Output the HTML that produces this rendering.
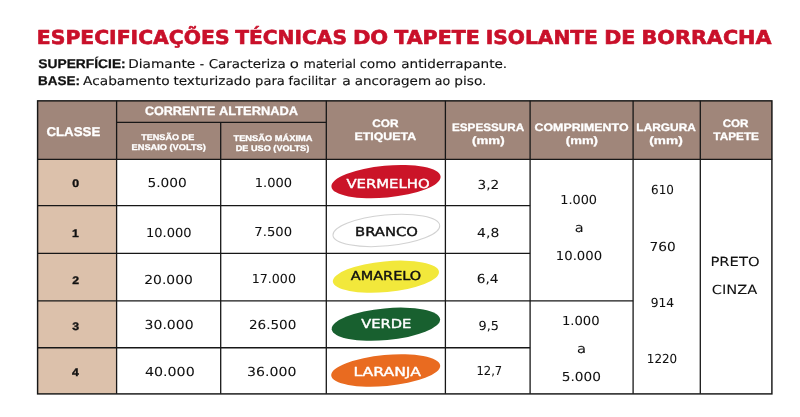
<!DOCTYPE html>
<html lang="pt-BR">
<head>
<meta charset="utf-8">
<title>Especificações técnicas do tapete isolante de borracha</title>
<style>
html,body{margin:0;padding:0;background:#ffffff;}
body{width:800px;height:417px;overflow:hidden;}
svg{display:block;}
text{white-space:pre;}
</style>
</head>
<body>
<svg width="800" height="417" viewBox="0 0 800 417" text-rendering="geometricPrecision" role="img" aria-label="Tabela de especificações técnicas do tapete isolante de borracha">
<rect x="0" y="0" width="800" height="417" fill="#ffffff"/>
<rect x="37.5" y="100.7" width="734.70" height="58.70" fill="#a0867a"/>
<rect x="37.5" y="159.4" width="79.10" height="234.40" fill="#dcc1ab"/>
<ellipse cx="0" cy="0" rx="54.81" ry="15.93" transform="translate(386.0 181.6) rotate(-5.3)" fill="#cb1428"/>
<ellipse cx="0" cy="0" rx="53.61" ry="15.49" transform="translate(386.35 230.4) rotate(-5.3)" fill="none" stroke="#d2d2d2" stroke-width="1"/>
<ellipse cx="0" cy="0" rx="53.31" ry="15.39" transform="translate(385.9 276.7) rotate(-5.3)" fill="#f2e83b"/>
<ellipse cx="0" cy="0" rx="54.41" ry="15.89" transform="translate(385.9 324.2) rotate(-5.3)" fill="#18602f"/>
<ellipse cx="0" cy="0" rx="54.72" ry="15.51" transform="translate(385.7 370.5) rotate(-5.3)" fill="#e96b20"/>
<g stroke="#171717" stroke-width="1.3" fill="none" stroke-linecap="butt">
<rect x="37.6" y="100.85" width="734.30" height="293.05" stroke-width="1.45"/>
<line x1="116.6" y1="122.3" x2="326.3" y2="122.3"/>
<line x1="37.5" y1="159.4" x2="772.2" y2="159.4"/>
<line x1="116.6" y1="100.7" x2="116.6" y2="393.8"/>
<line x1="220.7" y1="122.3" x2="220.7" y2="393.8"/>
<line x1="326.3" y1="100.7" x2="326.3" y2="393.8"/>
<line x1="445.4" y1="100.7" x2="445.4" y2="393.8"/>
<line x1="530.1" y1="100.7" x2="530.1" y2="393.8"/>
<line x1="633.1" y1="100.7" x2="633.1" y2="393.8"/>
<line x1="700.3" y1="100.7" x2="700.3" y2="393.8"/>
<line x1="37.5" y1="205.6" x2="530.1" y2="205.6"/>
<line x1="37.5" y1="253.3" x2="530.1" y2="253.3"/>
<line x1="37.5" y1="300.85" x2="633.1" y2="300.85"/>
<line x1="37.5" y1="347.75" x2="530.1" y2="347.75"/>
</g>
<g font-family='"DejaVu Sans", "Liberation Sans", sans-serif' font-size="19.27" font-weight="bold" fill="#c9102a" stroke="#c9102a" stroke-width="0.65" stroke-linejoin="round">
<text transform="translate(36.87 43.88) scale(1.0555 1)">ESPECIFICAÇÕES</text>
<text transform="translate(235.23 43.88) scale(1.0477 1)">TÉCNICAS</text>
<text transform="translate(352.92 43.88) scale(1.0905 1)">DO</text>
<text transform="translate(394.23 43.88) scale(1.0674 1)">TAPETE</text>
<text transform="translate(485.69 43.88) scale(1.0479 1)">ISOLANTE</text>
<text transform="translate(604.16 43.88) scale(1.0677 1)">DE</text>
<text transform="translate(641.55 43.88) scale(1.0752 1)">BORRACHA</text>
</g>
<g font-family='"Liberation Sans", sans-serif' font-size="12.72" font-weight="bold" fill="#111111" stroke="#111111" stroke-width="0.25" stroke-linejoin="round">
<text transform="translate(38.30 68.08) scale(1.0848 1)">SUPERFÍCIE:</text>
</g>
<g font-family='"DejaVu Sans", "Liberation Sans", sans-serif' font-size="12.18" font-weight="normal" fill="#111111" stroke="#111111" stroke-width="0.12" stroke-linejoin="round">
<text transform="translate(128.25 68.14) scale(1.1260 1)">Diamante</text>
<text transform="translate(199.86 68.14) scale(0.9903 1)">-</text>
<text transform="translate(208.64 68.14) scale(1.1068 1)">Caracteriza</text>
<text transform="translate(289.68 68.14) scale(1.2239 1)">o</text>
<text transform="translate(303.40 68.14) scale(1.0379 1)">material</text>
<text transform="translate(359.77 68.14) scale(1.0894 1)">como</text>
<text transform="translate(401.19 68.14) scale(1.1176 1)">antiderrapante.</text>
</g>
<g font-family='"Liberation Sans", sans-serif' font-size="12.72" font-weight="bold" fill="#111111" stroke="#111111" stroke-width="0.25" stroke-linejoin="round">
<text transform="translate(37.98 85.08) scale(1.0602 1)">BASE:</text>
</g>
<g font-family='"DejaVu Sans", "Liberation Sans", sans-serif' font-size="12.18" font-weight="normal" fill="#111111" stroke="#111111" stroke-width="0.12" stroke-linejoin="round">
<text transform="translate(83.06 85.14) scale(1.1268 1)">Acabamento</text>
<text transform="translate(173.39 85.14) scale(1.1183 1)">texturizado</text>
<text transform="translate(255.11 85.14) scale(1.0761 1)">para</text>
<text transform="translate(288.52 85.14) scale(1.0396 1)">facilitar</text>
<text transform="translate(342.17 85.14) scale(1.1443 1)">a</text>
<text transform="translate(354.70 85.14) scale(1.1092 1)">ancoragem</text>
<text transform="translate(434.75 85.14) scale(1.0343 1)">ao</text>
<text transform="translate(454.31 85.14) scale(1.1239 1)">piso.</text>
</g>
<g font-family='"Liberation Sans", sans-serif' font-size="12.79" font-weight="bold" fill="#ffffff" stroke="#ffffff" stroke-width="0.3" stroke-linejoin="round">
<text transform="translate(46.44 135.55) scale(1.0377 1)">CLASSE</text>
</g>
<g font-family='"Liberation Sans", sans-serif' font-size="12.28" font-weight="bold" fill="#ffffff" stroke="#ffffff" stroke-width="0.3" stroke-linejoin="round">
<text transform="translate(144.96 115.25) scale(1.0230 1)">CORRENTE</text>
<text transform="translate(218.97 115.25) scale(1.0496 1)">ALTERNADA</text>
</g>
<g font-family='"Liberation Sans", sans-serif' font-size="8.29" font-weight="bold" fill="#ffffff" stroke="#ffffff" stroke-width="0.3" stroke-linejoin="round">
<text transform="translate(141.16 139.75) scale(1.0991 1)">TENSÃO DE</text>
<text transform="translate(131.55 149.55) scale(1.1159 1)">ENSAIO (VOLTS)</text>
<text transform="translate(233.46 140.85) scale(1.1232 1)">TENSÃO MÁXIMA</text>
<text transform="translate(235.76 150.75) scale(1.1038 1)">DE USO (VOLTS)</text>
</g>
<g font-family='"Liberation Sans", sans-serif' font-size="10.76" font-weight="bold" fill="#ffffff" stroke="#ffffff" stroke-width="0.3" stroke-linejoin="round">
<text transform="translate(372.18 126.55) scale(1.0988 1)">COR</text>
<text transform="translate(354.55 139.75) scale(1.1486 1)">ETIQUETA</text>
<text transform="translate(451.98 130.85) scale(1.0899 1)">ESPESSURA</text>
<text transform="translate(472.04 143.85) scale(1.2386 1)">(mm)</text>
<text transform="translate(534.56 130.85) scale(1.1510 1)">COMPRIMENTO</text>
<text transform="translate(565.85 143.85) scale(1.2228 1)">(mm)</text>
<text transform="translate(636.37 130.85) scale(1.1060 1)">LARGURA</text>
<text transform="translate(649.32 143.85) scale(1.2701 1)">(mm)</text>
<text transform="translate(722.68 126.65) scale(1.0817 1)">COR</text>
<text transform="translate(713.33 140.25) scale(1.0960 1)">TAPETE</text>
</g>
<g font-family='"Liberation Sans", sans-serif' font-size="10.97" font-weight="bold" fill="#111111" stroke="#111111" stroke-width="0.35" stroke-linejoin="round">
<text transform="translate(72.16 187.02) scale(1.1200 1)">0</text>
<text transform="translate(71.95 236.62) scale(1.1200 1)">1</text>
<text transform="translate(72.23 284.43) scale(1.1200 1)">2</text>
<text transform="translate(72.24 330.02) scale(1.1200 1)">3</text>
<text transform="translate(72.10 375.82) scale(1.1200 1)">4</text>
</g>
<g font-family='"DejaVu Sans", "Liberation Sans", sans-serif' font-size="12.41" font-weight="normal" fill="#111111" stroke="#111111" stroke-width="0.05" stroke-linejoin="round">
<text transform="translate(147.38 187.17) scale(1.1097 1)">5.000</text>
<text transform="translate(146.02 236.57) scale(1.0500 1)">10.000</text>
<text transform="translate(144.28 283.68) scale(1.1191 1)">20.000</text>
<text transform="translate(144.55 329.48) scale(1.1292 1)">30.000</text>
<text transform="translate(144.89 376.07) scale(1.1470 1)">40.000</text>
<text transform="translate(254.72 187.17) scale(1.0509 1)">1.000</text>
<text transform="translate(254.32 235.87) scale(1.0625 1)">7.500</text>
<text transform="translate(251.66 282.88) scale(1.0208 1)">17.000</text>
<text transform="translate(248.91 329.48) scale(1.0927 1)">26.500</text>
<text transform="translate(247.05 376.07) scale(1.1364 1)">36.000</text>
</g>
<g font-family='"DejaVu Sans", "Liberation Sans", sans-serif' font-size="12.35" font-weight="normal" fill="#ffffff" stroke="#ffffff" stroke-width="0.4" stroke-linejoin="round">
<text transform="translate(346.44 187.60) scale(1.2025 1)">VERMELHO</text>
</g>
<g font-family='"DejaVu Sans", "Liberation Sans", sans-serif' font-size="12.35" font-weight="normal" fill="#111111" stroke="#111111" stroke-width="0.4" stroke-linejoin="round">
<text transform="translate(355.04 235.70) scale(1.1953 1)">BRANCO</text>
<text transform="translate(350.84 280.05) scale(1.1717 1)">AMARELO</text>
</g>
<g font-family='"DejaVu Sans", "Liberation Sans", sans-serif' font-size="12.35" font-weight="normal" fill="#ffffff" stroke="#ffffff" stroke-width="0.4" stroke-linejoin="round">
<text transform="translate(361.29 327.70) scale(1.1879 1)">VERDE</text>
<text transform="translate(353.41 376.20) scale(1.2683 1)">LARANJA</text>
</g>
<g font-family='"DejaVu Sans", "Liberation Sans", sans-serif' font-size="12.41" font-weight="normal" fill="#111111" stroke="#111111" stroke-width="0.05" stroke-linejoin="round">
<text transform="translate(477.58 188.77) scale(1.0998 1)">3,2</text>
<text transform="translate(477.11 236.57) scale(1.1217 1)">4,8</text>
<text transform="translate(476.79 283.07) scale(1.1039 1)">6,4</text>
<text transform="translate(478.60 329.78) scale(1.0336 1)">9,5</text>
<text transform="translate(476.49 375.28) scale(0.9299 1)">12,7</text>
<text transform="translate(560.24 203.97) scale(1.0358 1)">1.000</text>
</g>
<g font-family='"DejaVu Sans", "Liberation Sans", sans-serif' font-size="12.69" font-weight="normal" fill="#111111" stroke="#111111" stroke-width="0.05" stroke-linejoin="round">
<text transform="translate(574.82 232.27) scale(1.1447 1)">a</text>
</g>
<g font-family='"DejaVu Sans", "Liberation Sans", sans-serif' font-size="12.41" font-weight="normal" fill="#111111" stroke="#111111" stroke-width="0.05" stroke-linejoin="round">
<text transform="translate(555.80 260.48) scale(1.0670 1)">10.000</text>
<text transform="translate(561.90 325.48) scale(1.0629 1)">1.000</text>
</g>
<g font-family='"DejaVu Sans", "Liberation Sans", sans-serif' font-size="12.69" font-weight="normal" fill="#111111" stroke="#111111" stroke-width="0.05" stroke-linejoin="round">
<text transform="translate(577.00 352.78) scale(1.1621 1)">a</text>
</g>
<g font-family='"DejaVu Sans", "Liberation Sans", sans-serif' font-size="12.41" font-weight="normal" fill="#111111" stroke="#111111" stroke-width="0.05" stroke-linejoin="round">
<text transform="translate(561.79 381.38) scale(1.1038 1)">5.000</text>
<text transform="translate(651.12 194.27) scale(0.9628 1)">610</text>
<text transform="translate(649.58 251.07) scale(1.1047 1)">760</text>
<text transform="translate(650.64 306.68) scale(0.9881 1)">914</text>
<text transform="translate(646.85 363.18) scale(0.9608 1)">1220</text>
</g>
<g font-family='"DejaVu Sans", "Liberation Sans", sans-serif' font-size="12.55" font-weight="normal" fill="#111111" stroke="#111111" stroke-width="0.05" stroke-linejoin="round">
<text transform="translate(710.40 266.18) scale(1.1771 1)">PRETO</text>
<text transform="translate(711.66 294.07) scale(1.1682 1)">CINZA</text>
</g>
</svg>
</body>
</html>
